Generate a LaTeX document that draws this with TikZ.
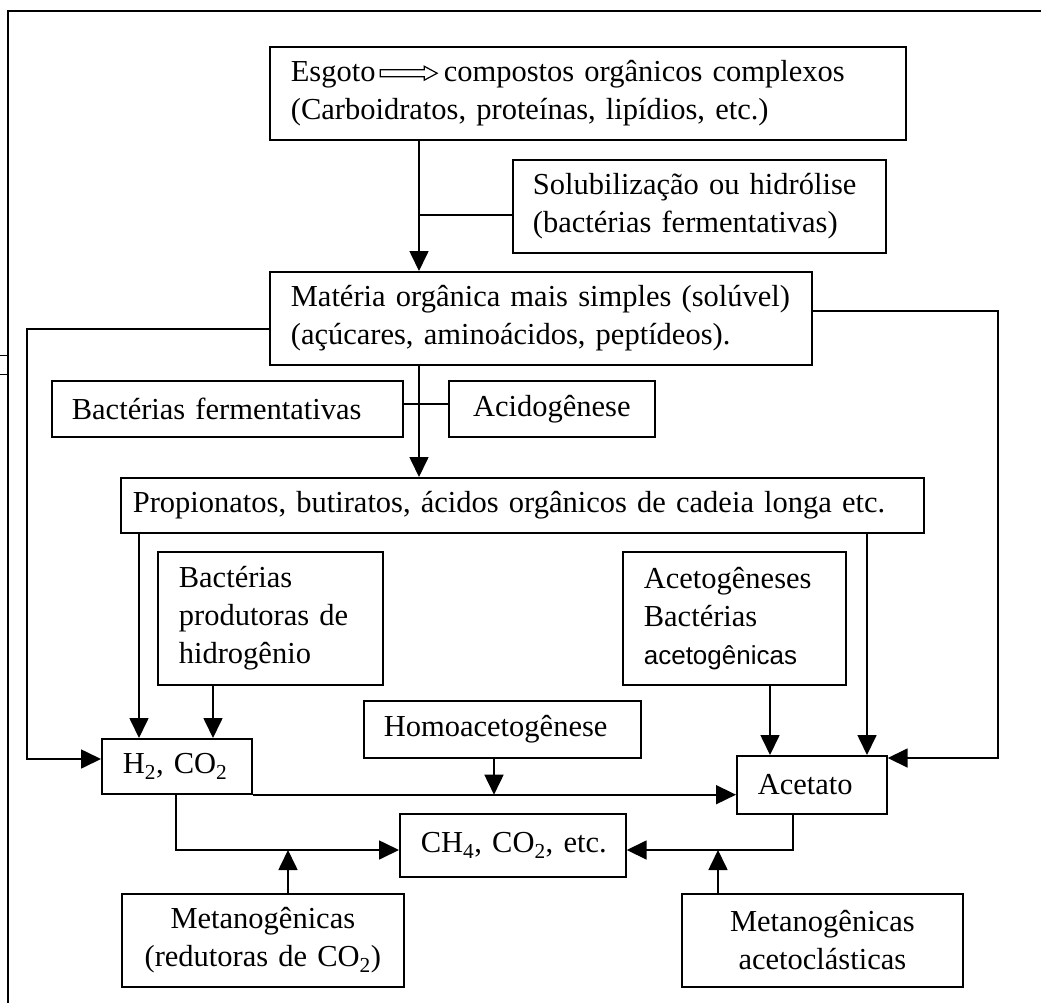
\documentclass[tikz,border=0pt]{standalone}
\usepackage{fontspec}
\setmainfont{Liberation Serif}[WordSpace=0.6]
\newfontfamily\arialf{Liberation Sans}[WordSpace=0.8]
\usetikzlibrary{arrows.meta}
\newcommand\hollowarr{\tikz[baseline=0pt,x=1pt,y=1pt]\draw[line width=1.2pt,line join=miter] (0,5)--(44,5)--(44,1.5)--(57,8.5)--(44,15.5)--(44,12)--(0,12)--cycle;}
\begin{document}
\begin{tikzpicture}[x=1pt,y=-1pt,line width=1.7pt,
  bx/.style={draw,line width=1.7pt,rectangle,anchor=north west,inner ysep=0pt,inner xsep=21pt,align=left,font=\fontsize{30.5}{38}\selectfont},
  arr/.style={-{Triangle[length=20pt,width=19pt]}}]
\useasboundingbox (0,0) rectangle (1041,1003);
% frame
\draw[line width=1.7pt] (8,1003) -- (8,11) -- (1041,11);
\draw[line width=1pt] (0,355) -- (7,355) (0,374) -- (7,374);
% boxes
\node[bx,minimum width=636pt,minimum height=93pt,text width=594pt] (esg) at (269,46)
  {\mbox{Esgoto\hspace{4pt}\hollowarr\hspace{6pt}compostos orgânicos complexos}\\\mbox{(Carboidratos, proteínas, lipídios, etc.)}};
\node[bx,inner xsep=20pt,minimum width=373pt,minimum height=93pt,text width=333pt] (sol) at (512,159)
  {\mbox{Solubilização ou hidrólise}\\\mbox{(bactérias fermentativas)}};
\node[bx,minimum width=542pt,minimum height=93pt,text width=500pt] (mat) at (269,271)
  {\mbox{Matéria orgânica mais simples (solúvel)}\\\mbox{(açúcares, aminoácidos, peptídeos).}};
\node[bx,inner xsep=20pt,minimum width=351pt,minimum height=56pt,text width=311pt] (ferm) at (51,380)
  {\mbox{Bactérias fermentativas}};
\node[bx,inner xsep=10pt,minimum width=206pt,minimum height=56pt,text width=186pt,align=center] (acid) at (448,380)
  {\mbox{Acidogênese}};
\node[bx,inner xsep=12pt,minimum width=803pt,minimum height=55pt,text width=779pt] (prop) at (120,477)
  {\mbox{Propionatos, butiratos, ácidos orgânicos de cadeia longa etc.}};
\node[bx,minimum width=225pt,minimum height=133pt,text width=183pt] (bprod) at (157,551)
  {\mbox{Bactérias}\\\mbox{produtoras de}\\\mbox{hidrogênio}};
\node[bx,minimum width=223pt,minimum height=133pt,text width=181pt] (aceto) at (622,551)
  {\mbox{Acetogêneses}\\\mbox{Bactérias}\\\mbox{\arialf\fontsize{26}{38}\selectfont acetogênicas}};
\node[bx,inner xsep=20pt,minimum width=277pt,minimum height=57pt,text width=237pt] (homo) at (363,700)
  {\mbox{Homoacetogênese}};
\node[bx,minimum width=150pt,minimum height=55pt,text width=108pt] (h2) at (101,738)
  {\mbox{H\textsubscript{2}, CO\textsubscript{2}}};
\node[bx,minimum width=150pt,minimum height=58pt,text width=108pt] (acet) at (736,755)
  {\mbox{Acetato}};
\node[bx,minimum width=226pt,minimum height=63pt,text width=184pt] (ch4) at (399,813)
  {\mbox{CH\textsubscript{4}, CO\textsubscript{2}, etc.}};
\node[bx,inner xsep=10pt,minimum width=282pt,minimum height=93pt,text width=262pt,align=center] (metred) at (121,893)
  {\mbox{Metanogênicas}\\\mbox{(redutoras de CO\textsubscript{2})}};
\node[bx,inner xsep=10pt,minimum width=281pt,minimum height=93pt,text width=261pt,align=center] (metace) at (681,893)
  {\mbox{Metanogênicas}\\\mbox{acetoclásticas}};
% junction coordinates
\coordinate (jA) at (419,215);
\coordinate (jB) at (419,404);
\coordinate (L1) at (27,329);
\coordinate (L2) at (27,759);
\coordinate (R1) at (998,311);
\coordinate (R2) at (998,758);
\coordinate (P1) at (139,0);
\coordinate (P2) at (213,0);
\coordinate (P3) at (867,0);
\coordinate (P4) at (770,0);
\coordinate (Hx) at (494,0);
\coordinate (C1) at (176,850);
\coordinate (C2) at (793,850);
\coordinate (M1) at (288,850);
\coordinate (M2) at (718,850);
% connectors
\draw[arr] (esg.south -| jA) -- (mat.north -| jA);
\draw (jA) -- (sol.west |- jA);
\draw[arr] (mat.south -| jB) -- (prop.north -| jB);
\draw (ferm.east |- jB) -- (acid.west |- jB);
\draw[arr] (mat.west |- L1) -- (L1) -- (L2) -- (h2.west |- L2);
\draw[arr] (mat.east |- R1) -- (R1) -- (R2) -- (acet.east |- R2);
\draw[arr] (prop.south -| P1) -- (h2.north -| P1);
\draw[arr] (bprod.south -| P2) -- (h2.north -| P2);
\draw[arr] (prop.south -| P3) -- (acet.north -| P3);
\draw[arr] (aceto.south -| P4) -- (acet.north -| P4);
\draw[arr] (h2.south east) -- (h2.south east -| acet.west);
\draw[arr] (homo.south -| Hx) -- (Hx |- h2.south);
\draw[arr] (h2.south -| C1) -- (C1) -- (ch4.west |- C1);
\draw[arr] (acet.south -| C2) -- (C2) -- (ch4.east |- C2);
\draw[arr] (metred.north -| M1) -- (M1);
\draw[arr] (metace.north -| M2) -- (M2);
\end{tikzpicture}
\end{document}
